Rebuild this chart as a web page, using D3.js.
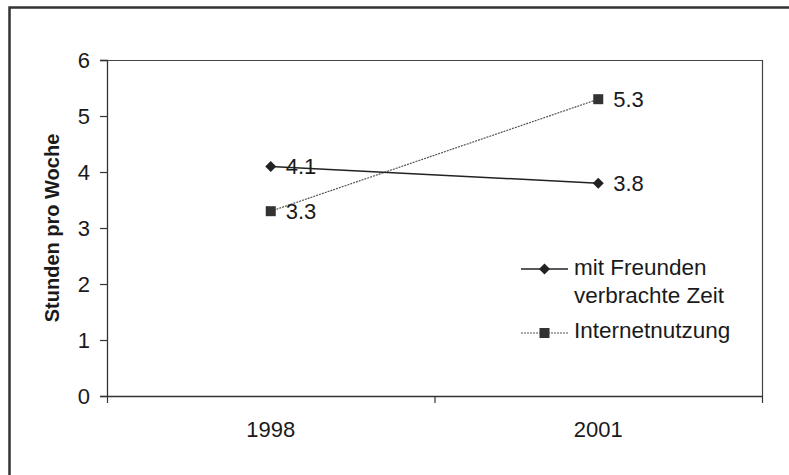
<!DOCTYPE html>
<html>
<head>
<meta charset="utf-8">
<script src="https://cdn.jsdelivr.net/npm/d3@7"></script>
<style>
  html, body { margin: 0; padding: 0; background: #fff; }
  svg { display: block; }
  text { font-family: "Liberation Sans", Arial, sans-serif; fill: #1a1a1a; }
</style>
</head>
<body>
<svg id="chart" width="789" height="475"></svg>
<script>
// Chart data
const years = ["1998", "2001"];
const friendsTime = [4.1, 3.8];      // mit Freunden verbrachte Zeit
const internetUse = [3.3, 5.3];      // Internetnutzung
const yTickValues = [0, 1, 2, 3, 4, 5, 6];
const seriesNames = ["mit Freunden verbrachte Zeit", "Internetnutzung"];
const yAxisTitle = "Stunden pro Woche";

const svg = d3.select("#chart");

// Outer chart frame (only left and top sides fall inside the page)
svg.append("path")
  .attr("d", "M9.5,475 V7.5 H789")
  .attr("fill", "none")
  .attr("stroke", "#333")
  .attr("stroke-width", 2.5);

const plot = { left: 107, right: 762, top: 60, bottom: 396 };

const x = d3.scaleBand().domain(years).range([plot.left, plot.right]).padding(0);
const y = d3.scaleLinear().domain([0, 6]).range([plot.bottom, plot.top]);
const cx = d => x(d) + x.bandwidth() / 2;

// Plot area border (top and right)
svg.append("path")
  .attr("d", `M${plot.left},${plot.top + 0.5} H${plot.right + 0.5} V${plot.bottom}`)
  .attr("fill", "none")
  .attr("stroke", "#444")
  .attr("stroke-width", 1.2);

// Y axis
const yAxis = svg.append("g")
  .attr("transform", `translate(${plot.left},0)`)
  .call(d3.axisLeft(y).tickValues(yTickValues).tickSize(7).tickPadding(10).tickFormat(d3.format("d")));
yAxis.select(".domain").attr("stroke", "#333").attr("stroke-width", 1.3);
yAxis.selectAll(".tick line").attr("stroke", "#333").attr("stroke-width", 1.2);
yAxis.selectAll(".tick text")
  .attr("font-size", 22)
  .attr("font-family", "Liberation Sans, Arial, sans-serif")
  .attr("fill", "#1a1a1a");

// X axis: category labels centred, ticks on the category boundaries
const xAxis = svg.append("g")
  .attr("transform", `translate(0,${plot.bottom})`)
  .call(d3.axisBottom(x).tickSize(0).tickPadding(25));
xAxis.select(".domain").remove();
xAxis.selectAll(".tick text")
  .attr("font-size", 22)
  .attr("font-family", "Liberation Sans, Arial, sans-serif")
  .attr("fill", "#1a1a1a");
svg.append("line")
  .attr("x1", plot.left).attr("x2", plot.right + 0.5)
  .attr("y1", plot.bottom + 0.5).attr("y2", plot.bottom + 0.5)
  .attr("stroke", "#333").attr("stroke-width", 1.3);
const boundaries = [x(years[0]), x(years[1]), x(years[1]) + x.bandwidth()];
svg.selectAll(".xbound")
  .data(boundaries)
  .join("line")
  .attr("x1", d => d + 0.5).attr("x2", d => d + 0.5)
  .attr("y1", plot.bottom).attr("y2", plot.bottom + 7)
  .attr("stroke", "#333").attr("stroke-width", 1.2);

// Y axis title
svg.append("text")
  .attr("transform", `translate(59,${(plot.top + plot.bottom) / 2}) rotate(-90)`)
  .attr("text-anchor", "middle")
  .attr("font-size", 20)
  .attr("font-weight", "bold")
  .text(yAxisTitle);

const line = d3.line().x((d, i) => cx(years[i])).y(d => y(d));

// Internet usage: fine dotted grey line with square markers
svg.append("path")
  .datum(internetUse)
  .attr("d", line)
  .attr("fill", "none")
  .attr("stroke", "#555")
  .attr("stroke-width", 1.2)
  .attr("stroke-dasharray", "2,1");

// Time with friends: solid dark line with diamond markers
svg.append("path")
  .datum(friendsTime)
  .attr("d", line)
  .attr("fill", "none")
  .attr("stroke", "#222")
  .attr("stroke-width", 1.5);

const diamond = (g, px, py, r) =>
  g.append("path")
    .attr("d", `M${px},${py - r} L${px + r},${py} L${px},${py + r} L${px - r},${py} Z`)
    .attr("fill", "#222");
const square = (g, px, py, s) =>
  g.append("rect")
    .attr("x", px - s / 2).attr("y", py - s / 2)
    .attr("width", s).attr("height", s)
    .attr("fill", "#333");

const marks = svg.append("g");
friendsTime.forEach((v, i) => diamond(marks, cx(years[i]), y(v), 5.5));
internetUse.forEach((v, i) => square(marks, cx(years[i]), y(v), 10));

// Value labels
const labels = svg.append("g");
[friendsTime, internetUse].forEach(series => {
  series.forEach((v, i) => {
    labels.append("text")
      .attr("x", cx(years[i]) + 15)
      .attr("y", y(v))
      .attr("dy", "0.36em")
      .attr("font-size", 22)
      .text(d3.format(".1f")(v));
  });
});

// Legend
const legend = svg.append("g");
const lgX1 = 521, lgX2 = 568, lgText = 574;
const lg1Y = 269, lg2Y = 333;
legend.append("line")
  .attr("x1", lgX1).attr("x2", lgX2).attr("y1", lg1Y).attr("y2", lg1Y)
  .attr("stroke", "#222").attr("stroke-width", 1.5);
diamond(legend, (lgX1 + lgX2) / 2, lg1Y, 5.5);
const t1 = legend.append("text")
  .attr("x", lgText).attr("y", 275)
  .attr("font-size", 22.5);
t1.append("tspan").attr("x", lgText).text("mit Freunden");
t1.append("tspan").attr("x", lgText).attr("dy", 28).text("verbrachte Zeit");

legend.append("line")
  .attr("x1", lgX1).attr("x2", lgX2).attr("y1", lg2Y).attr("y2", lg2Y)
  .attr("stroke", "#555").attr("stroke-width", 1.2)
  .attr("stroke-dasharray", "2,1");
square(legend, (lgX1 + lgX2) / 2, lg2Y, 10);
legend.append("text")
  .attr("x", lgText).attr("y", 338)
  .attr("font-size", 22.5)
  .text(seriesNames[1]);
</script>
</body>
</html>
